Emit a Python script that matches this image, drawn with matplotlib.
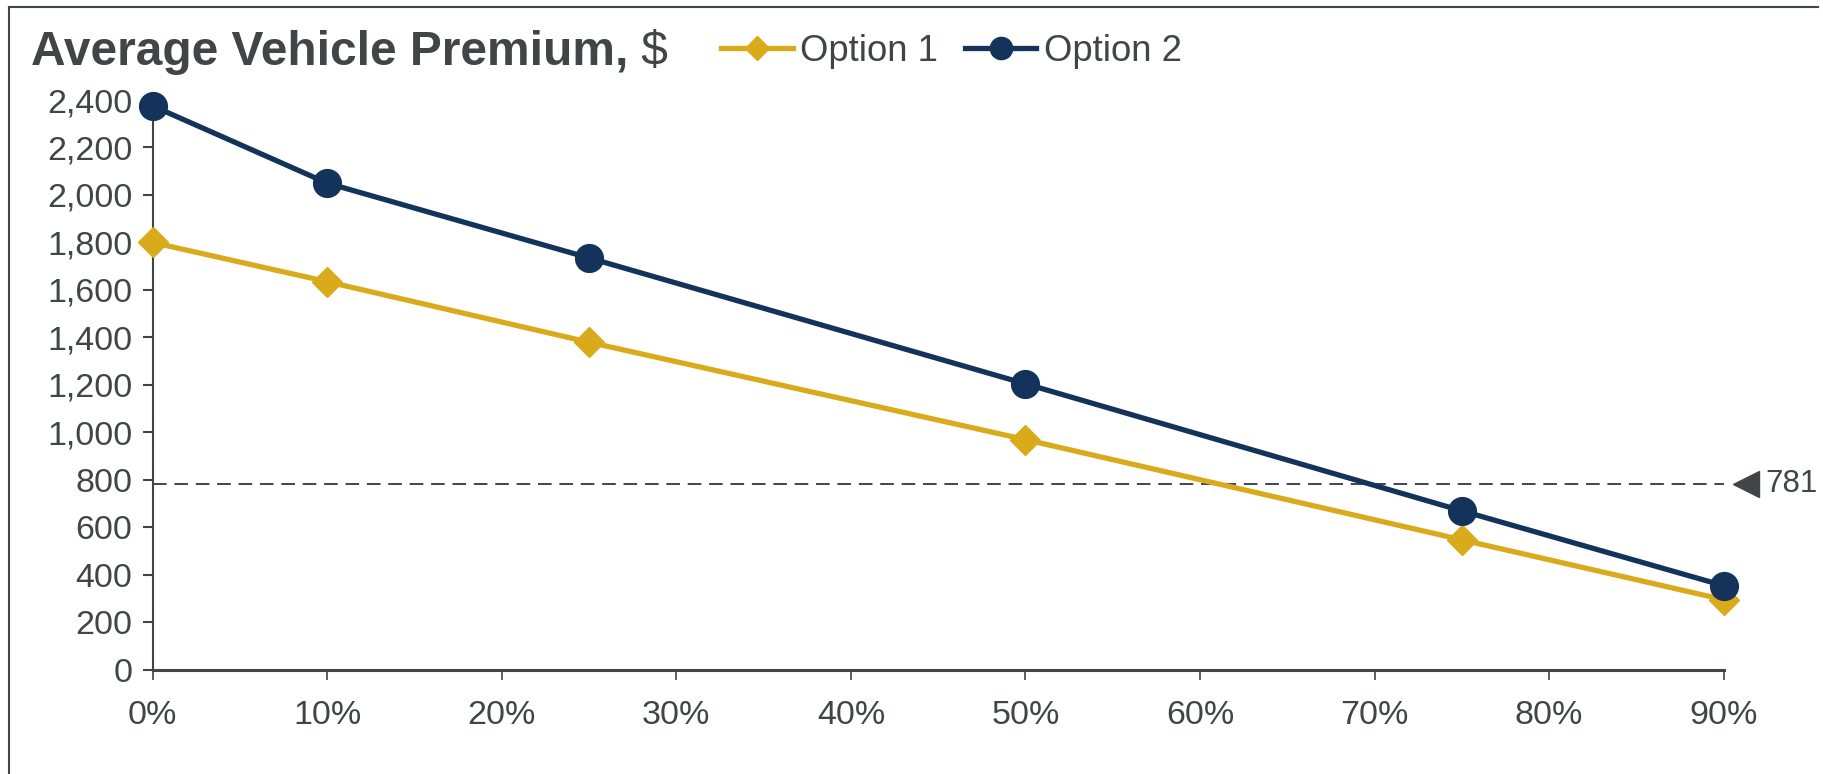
import matplotlib
matplotlib.use('Agg')
import matplotlib.pyplot as plt
from matplotlib.ticker import FuncFormatter, MultipleLocator
from matplotlib.lines import Line2D

plt.rcParams['font.family'] = ['Liberation Sans', 'DejaVu Sans']

# share of vehicles (%) and average premium per option
share = [0, 10, 25, 50, 75, 90]
option1 = [1800, 1635, 1380, 970, 548, 296]
option2 = [2375, 2050, 1735, 1205, 670, 355]
threshold = 781

navy = '#13335a'
gold = '#d9aa19'
grey = '#404548'

fig = plt.figure(figsize=(18.24, 7.74), dpi=100)
ax = fig.add_axes([0.0837, 0.1344, 0.945 - 0.0837, 0.8708 - 0.1344])

ax.plot(share, option1, color=gold, lw=3.8, marker='D', ms=15, clip_on=False, zorder=3)
ax.plot(share, option2, color=navy, lw=3.8, marker='o', ms=20, clip_on=False, zorder=4)

# reference level with a pointer at the right edge
ax.axhline(threshold, color=grey, lw=1.4, ls=(0, (7, 4)), zorder=2)
ax.plot([91.3], [threshold], marker='<', ms=19, color=grey, clip_on=False)
ax.text(92.4, threshold, str(threshold), color=grey, fontsize=22.5, va='center', ha='left')

ax.set_xlim(0, 90)
ax.set_ylim(0, 2400)
ax.xaxis.set_major_locator(MultipleLocator(10))
ax.yaxis.set_major_locator(MultipleLocator(200))
ax.xaxis.set_major_formatter(FuncFormatter(lambda v, p: '{:.0f}%'.format(v)))
ax.yaxis.set_major_formatter(FuncFormatter(lambda v, p: '{:,.0f}'.format(v)))

for s in ['top', 'right']:
    ax.spines[s].set_visible(False)
ax.spines['left'].set_color(grey)
ax.spines['left'].set_linewidth(1.5)
ax.spines['bottom'].set_color(grey)
ax.spines['bottom'].set_linewidth(2.2)
ax.tick_params(axis='y', direction='out', length=7.5, width=1.5, color=grey,
               labelcolor=grey, labelsize=24.5, pad=7)
ax.tick_params(axis='x', direction='out', length=7.5, width=1.2, color=grey,
               labelcolor=grey, labelsize=24.5, pad=14)

# title: bold text followed by regular unit
t1 = fig.text(0.017, 0.9160, 'Average Vehicle Premium,', fontsize=34.5, fontweight='bold',
              color=grey, va='baseline', ha='left')
fig.canvas.draw()
ax.annotate(' $', xy=(1, 0), xycoords=t1, fontsize=34.5, color=grey, va='bottom', ha='left',
            annotation_clip=False)

handles = [Line2D([], [], color=gold, lw=3.8, marker='D', ms=12),
           Line2D([], [], color=navy, lw=3.8, marker='o', ms=16)]
fig.legend(handles, ['Option 1', 'Option 2'], loc='center left', bbox_to_anchor=(0.3955, 0.934),
           ncol=2, frameon=False, fontsize=26.3, handlelength=1.95, handletextpad=0.2,
           columnspacing=0.75, borderpad=0, borderaxespad=0, labelcolor=grey)

# partial frame around the figure
fig.add_artist(Line2D([0.0052, 0.0052], [0, 0.9906], transform=fig.transFigure, color=grey, lw=1.5))
fig.add_artist(Line2D([0.0052, 0.9968], [0.9906, 0.9906], transform=fig.transFigure, color=grey, lw=1.5))

fig.savefig('out.png', dpi=100)
